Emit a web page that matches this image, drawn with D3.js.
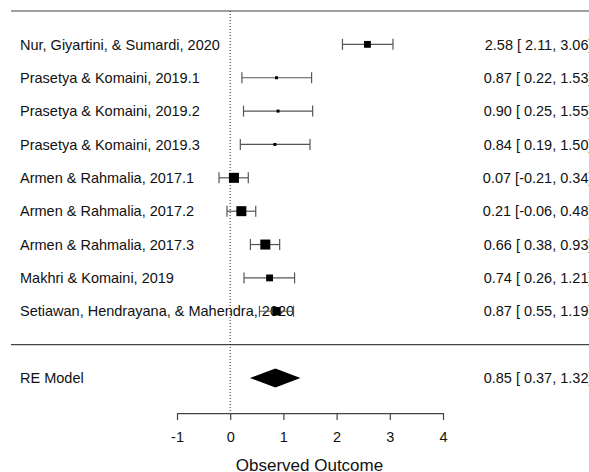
<!DOCTYPE html>
<html>
<head>
<meta charset="utf-8">
<script src="https://cdn.jsdelivr.net/npm/d3@7"></script>
<style>
  body { margin: 0; background: #fff; }
  text { font-family: "Liberation Sans", Arial, sans-serif; fill: #111; }
</style>
</head>
<body>
<div id="chart"></div>
<script>
// study data
var studies = ["Nur, Giyartini, & Sumardi, 2020", "Prasetya & Komaini, 2019.1", "Prasetya & Komaini, 2019.2",
    "Prasetya & Komaini, 2019.3", "Armen & Rahmalia, 2017.1", "Armen & Rahmalia, 2017.2",
    "Armen & Rahmalia, 2017.3", "Makhri & Komaini, 2019", "Setiawan, Hendrayana, & Mahendra, 2020"];
var estimates = [2.58, 0.87, 0.90, 0.84, 0.07, 0.21, 0.66, 0.74, 0.87];
var lowers = [2.11, 0.22, 0.25, 0.19, -0.21, -0.06, 0.38, 0.26, 0.55];
var uppers = [3.06, 1.53, 1.55, 1.50, 0.34, 0.48, 0.93, 1.21, 1.19];
var weights = [11.1, 9.9, 9.9, 9.9, 12.1, 12.1, 12.1, 11.1, 11.6];   // estimated RE weights (%)

var modelLabel = "RE Model";
var modelEst = 0.85, modelLower = 0.37, modelUpper = 1.32;

var xTicks = [-1, 0, 1, 2, 3, 4];
var xLabel = "Observed Outcome";

// set the dimensions
var width = 589, height = 472;

var svg = d3.select("#chart")
    .append("svg")
    .attr("width", width)
    .attr("height", height);

// x: effect size, y: row number (studies k..1, model at -1)
var x = d3.scaleLinear().domain([-1, 4]).range([177, 443]);
var y = d3.scaleLinear().domain([-1, 10]).range([378, 11]);
var size = d3.scaleLinear().domain(d3.extent(weights)).range([3, 10]);

var k = studies.length;
var rows = studies.map(function (d, i) { return k - i; });
// plain hyphen for negatives, like R prints them
function fmt(v) { return v.toFixed(2); }
function ann(e, l, u) {
    var ls = l < 0 ? fmt(l) : " " + fmt(l);
    return fmt(e) + " [" + ls + ", " + fmt(u) + "]";
}

var axisY = y(-2.05);

// horizontal lines (top and separator)
svg.append("line")
    .attr("x1", 11).attr("x2", width)
    .attr("y1", y(10)).attr("y2", y(10))
    .attr("stroke", "#444").attr("stroke-width", 1.2);
svg.append("line")
    .attr("x1", 11).attr("x2", width)
    .attr("y1", y(0)).attr("y2", y(0))
    .attr("stroke", "#444").attr("stroke-width", 1.2);

// dotted reference line at 0
svg.append("line")
    .attr("x1", x(0)).attr("x2", x(0))
    .attr("y1", y(10)).attr("y2", axisY)
    .attr("stroke", "#222").attr("stroke-width", 1)
    .attr("stroke-dasharray", "1,2");

// study labels
svg.selectAll(".lab")
    .data(studies)
    .enter()
    .append("text")
    .attr("x", 20)
    .attr("y", function (d, i) { return y(rows[i]); })
    .attr("dy", "0.36em")
    .style("font-size", "14.5px")
    .text(function (d) { return d; });

// CI lines
var g = svg.selectAll(".ci")
    .data(studies)
    .enter()
    .append("g")
    .attr("stroke", "#555")
    .attr("stroke-width", 1.2);
g.append("line")
    .attr("x1", function (d, i) { return x(lowers[i]); })
    .attr("x2", function (d, i) { return x(uppers[i]); })
    .attr("y1", function (d, i) { return y(rows[i]); })
    .attr("y2", function (d, i) { return y(rows[i]); });
g.append("line")
    .attr("x1", function (d, i) { return x(lowers[i]); })
    .attr("x2", function (d, i) { return x(lowers[i]); })
    .attr("y1", function (d, i) { return y(rows[i]) - 5.5; })
    .attr("y2", function (d, i) { return y(rows[i]) + 5.5; });
g.append("line")
    .attr("x1", function (d, i) { return x(uppers[i]); })
    .attr("x2", function (d, i) { return x(uppers[i]); })
    .attr("y1", function (d, i) { return y(rows[i]) - 5.5; })
    .attr("y2", function (d, i) { return y(rows[i]) + 5.5; });

// squares sized by weight
svg.selectAll(".pt")
    .data(estimates)
    .enter()
    .append("rect")
    .attr("x", function (d, i) { return x(d) - size(weights[i]) / 2; })
    .attr("y", function (d, i) { return y(rows[i]) - size(weights[i]) / 2; })
    .attr("width", function (d, i) { return size(weights[i]); })
    .attr("height", function (d, i) { return size(weights[i]); })
    .attr("fill", "#000");

// annotations on the right
svg.selectAll(".ann")
    .data(estimates)
    .enter()
    .append("text")
    .attr("x", 592.5)
    .attr("y", function (d, i) { return y(rows[i]); })
    .attr("dy", "0.36em")
    .attr("text-anchor", "end")
    .style("font-size", "14.5px")
    .style("white-space", "pre")
    .attr("xml:space", "preserve")
    .text(function (d, i) { return ann(d, lowers[i], uppers[i]); });

// summary row
svg.append("text")
    .attr("x", 20).attr("y", y(-1)).attr("dy", "0.36em")
    .style("font-size", "14.5px")
    .text(modelLabel);
svg.append("polygon")
    .attr("points", [
        [x(modelLower), y(-1)], [x(modelEst), y(-1) - 9.5],
        [x(modelUpper), y(-1)], [x(modelEst), y(-1) + 9.5]
    ].map(function (p) { return p.join(","); }).join(" "))
    .attr("fill", "#000");
svg.append("text")
    .attr("x", 592.5).attr("y", y(-1)).attr("dy", "0.36em")
    .attr("text-anchor", "end")
    .style("font-size", "14.5px")
    .style("white-space", "pre")
    .attr("xml:space", "preserve")
    .text(ann(modelEst, modelLower, modelUpper));

// x axis
var axis = svg.append("g")
    .attr("transform", "translate(0," + axisY + ")")
    .call(d3.axisBottom(x).tickValues(xTicks).tickSize(7).tickSizeOuter(0).tickPadding(12)
        .tickFormat(function (d) { return String(d); }));
axis.select(".domain").attr("stroke", "#444").attr("stroke-width", 1.2);
axis.selectAll(".tick line").attr("stroke", "#444").attr("stroke-width", 1.2);
axis.selectAll(".tick text")
    .style("font-size", "14.5px")
    .style("font-family", "Liberation Sans, Arial, sans-serif")
    .attr("fill", "#111");

// x axis label
svg.append("text")
    .attr("text-anchor", "middle")
    .attr("x", x(1.5) - 0.5)
    .attr("y", 465)
    .attr("dy", "0.36em")
    .style("font-size", "17px")
    .text(xLabel);
</script>
</body>
</html>
